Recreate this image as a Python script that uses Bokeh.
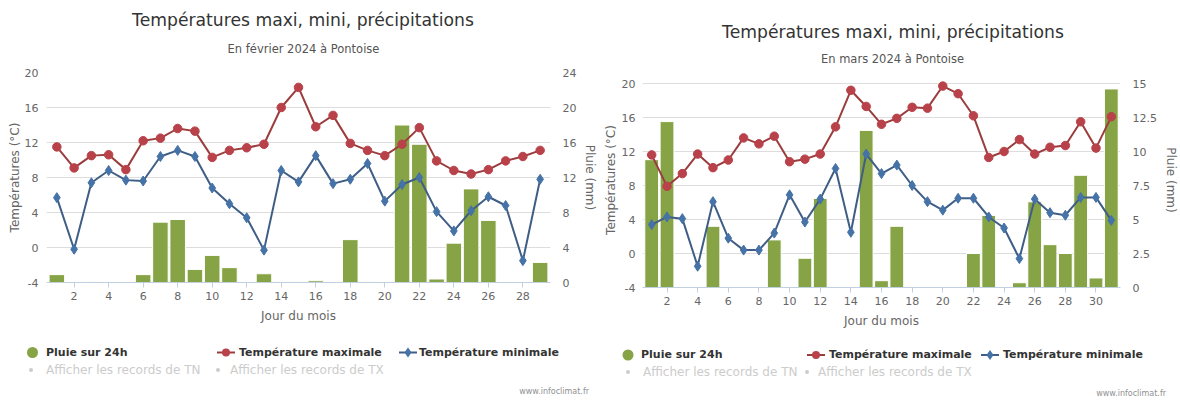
from bokeh.plotting import figure
from bokeh.models import Range1d, LinearAxis, FixedTicker, Div
from bokeh.layouts import row, column
from bokeh.embed import file_html
from bokeh.resources import INLINE

FONT = "DejaVu Sans"

# ---------------- data ----------------
title_text = "Températures maxi, mini, précipitations"
feb_subtitle = "En février 2024 à Pontoise"
mar_subtitle = "En mars 2024 à Pontoise"
x_title = "Jour du mois"
left_title = "Températures (°C)"
right_title = "Pluie (mm)"
legend_rain = "Pluie sur 24h"
legend_tmax = "Température maximale"
legend_tmin = "Température minimale"
records_tn = "Afficher les records de TN"
records_tx = "Afficher les records de TX"
credit = "www.infoclimat.fr"

feb_days = list(range(1, 30))
feb_tmax = [11.5, 9.1, 10.5, 10.6, 8.9, 12.2, 12.5, 13.6, 13.3, 10.3, 11.1, 11.4, 11.8, 16.0, 18.3,
            13.8, 15.1, 11.9, 11.1, 10.5, 11.8, 13.7, 9.9, 8.8, 8.4, 8.9, 9.9, 10.4, 11.1]
feb_tmin = [5.7, -0.2, 7.4, 8.8, 7.7, 7.6, 10.4, 11.1, 10.4, 6.8, 5.0, 3.4, -0.3, 8.8, 7.5,
            10.5, 7.3, 7.8, 9.6, 5.3, 7.2, 8.0, 4.1, 1.9, 4.2, 5.8, 4.8, -1.5, 7.8]
feb_rain = [0.9, 0, 0.1, 0, 0, 0.9, 6.9, 7.2, 1.5, 3.1, 1.7, 0, 1.0, 0.1, 0.1,
            0.2, 0, 4.9, 0.1, 0, 18.0, 15.8, 0.4, 4.5, 10.7, 7.1, 0, 0, 2.3]
feb_xticks = [2, 4, 6, 8, 10, 12, 14, 16, 18, 20, 22, 24, 26, 28]
feb_temp_ticks = [-4, 0, 4, 8, 12, 16, 20]
feb_rain_ticks = [0, 4, 8, 12, 16, 20, 24]

mar_days = list(range(1, 32))
mar_tmax = [11.6, 7.9, 9.4, 11.7, 10.1, 11.0, 13.6, 12.9, 13.8, 10.8, 11.1, 11.7, 14.9, 19.2, 17.3,
            15.2, 15.9, 17.2, 17.1, 19.7, 18.8, 16.2, 11.3, 12.0, 13.4, 11.7, 12.5, 12.7, 15.5, 12.4, 16.1]
mar_tmin = [3.4, 4.3, 4.1, -1.5, 6.1, 1.8, 0.4, 0.4, 2.4, 6.9, 3.7, 6.4, 10.0, 2.5, 11.7,
            9.4, 10.4, 8.0, 6.1, 5.1, 6.5, 6.5, 4.3, 3.0, -0.6, 6.4, 4.8, 4.5, 6.6, 6.6, 3.9]
mar_rain = [9.4, 12.2, 0, 0, 4.5, 0, 0, 0, 3.5, 0, 2.15, 6.55, 0, 0, 11.55,
            0.5, 4.5, 0, 0, 0, 0, 2.5, 5.3, 0, 0.35, 6.3, 3.15, 2.5, 8.25, 0.7, 14.6]
mar_xticks = [2, 4, 6, 8, 10, 12, 14, 16, 18, 20, 22, 24, 26, 28, 30]
mar_temp_ticks = [-4, 0, 4, 8, 12, 16, 20]
mar_rain_ticks = [0, 2.5, 5, 7.5, 10, 12.5, 15]

# ---------------- styles ----------------
GREEN = "#86a345"
RED = "#b9424a"
RED_LINE = "#9c3d3d"
BLUE = "#4572a7"
BLUE_LINE = "#3f5e86"
GRID = "#dddddd"
AXIS = "#c0d0e0"
TICK_TXT = "#666666"
TITLE_TXT = "#333333"
LIGHT = "#cccccc"


def fmt(t):
    return "%g" % t


def span(text, x, yc, size, color, lh, bold=False, align="left", box_w=None):
    weight = "bold" if bold else "normal"
    if align == "left":
        pos = "left:%.1fpx;" % x
    elif align == "center":
        pos = "left:%.1fpx;width:%.1fpx;text-align:center;" % (x - box_w / 2, box_w)
    else:
        pos = "left:%.1fpx;width:%.1fpx;text-align:right;" % (x - box_w, box_w)
    return ('<div style="position:absolute;%stop:%.1fpx;height:%dpx;line-height:%dpx;'
            'font-size:%s;font-weight:%s;color:%s;white-space:nowrap;">%s</div>'
            % (pos, yc - lh / 2, lh, lh, size, weight, color, text))


def box(inner, w, h):
    return ('<div style="position:relative;width:%dpx;height:%dpx;font-family:\'%s\';'
            'overflow:visible;">%s</div>' % (w, h, FONT, inner))


def header(subtitle, L):
    w, h = L["W"], L["hh"]
    inner = span(title_text, L["title_x"], L["title_y"], "17.2px", TITLE_TXT, 22,
                 align="center", box_w=500)
    inner += span(subtitle, L["sub_x"], L["sub_y"], "11.5px", "#555555", 14,
                  align="center", box_w=400)
    return Div(text=box(inner, w, h), width=w, height=h, margin=(0, 0, 0, 0))


def footer(L):
    w, h = L["W"], L["fh_div"]
    r1, r2 = L["r1"], L["r2"]
    cx, tx = L["lg_circle"], L["lg_text"]
    svg = ('<svg style="position:absolute;left:0;top:0;" width="%d" height="%d">' % (w, h))
    svg += '<circle cx="%.1f" cy="%.1f" r="5.5" fill="%s"/>' % (cx[0], r1, GREEN)
    for (x0, col_l, col_m, kind) in ((cx[1], RED_LINE, RED, "c"), (cx[2], BLUE_LINE, BLUE, "d")):
        svg += ('<line x1="%.1f" y1="%.1f" x2="%.1f" y2="%.1f" stroke="%s" stroke-width="2"/>'
                % (x0, r1, x0 + 18, r1, col_l))
        m = x0 + 9
        if kind == "c":
            svg += '<circle cx="%.1f" cy="%.1f" r="4" fill="%s"/>' % (m, r1, col_m)
        else:
            svg += ('<polygon points="%.1f,%.1f %.1f,%.1f %.1f,%.1f %.1f,%.1f" fill="%s"/>'
                    % (m, r1 - 5, m + 3.5, r1, m, r1 + 5, m - 3.5, r1, col_m))
    for bx in L["bullets"]:
        svg += '<circle cx="%.1f" cy="%.1f" r="2" fill="%s"/>' % (bx, r2, LIGHT)
    svg += "</svg>"
    inner = svg
    inner += span(legend_rain, tx[0], r1, "11px", TITLE_TXT, 16, bold=True)
    inner += span(legend_tmax, tx[1], r1, "11px", TITLE_TXT, 16, bold=True)
    inner += span(legend_tmin, tx[2], r1, "11px", TITLE_TXT, 16, bold=True)
    inner += span(records_tn, L["rec_text"][0], r2, "12px", LIGHT, 16)
    inner += span(records_tx, L["rec_text"][1], r2, "12px", LIGHT, 16)
    inner += span(credit, L["cred_x"], L["cred_y"], "8px", "#909090", 10, align="right", box_w=150)
    return Div(text=box(inner, w, h), width=w, height=h, margin=(0, 0, 0, 0))


def chart(days, tmax, tmin, rain, xticks, tticks, rticks, L):
    W = L["W"]
    fw, fh, top, left, bottom = L["fw"], L["fh"], L["top"], L["left"], L["bottom"]
    H = top + fh + bottom
    span_t = tticks[-1] - tticks[0]
    span_r = rticks[-1] - rticks[0]
    plot_h = fh - L["pad_top"]
    t_hi = tticks[-1] + span_t * L["pad_top"] / plot_h
    r_hi = rticks[-1] + span_r * L["pad_top"] / plot_h

    p = figure(width=W, height=H, output_backend="svg", toolbar_location=None, title=None,
               x_range=Range1d(0.4, len(days) + 0.6), y_range=Range1d(tticks[0], t_hi),
               min_border_left=left, min_border_right=W - left - fw,
               min_border_top=top, min_border_bottom=bottom)
    p.outline_line_color = None
    p.background_fill_color = "white"
    p.border_fill_color = "white"
    p.extra_y_ranges = {"rain": Range1d(rticks[0], r_hi)}

    xa = p.xaxis[0]
    xa.ticker = FixedTicker(ticks=xticks)
    xa.axis_line_color = AXIS
    xa.major_tick_line_color = AXIS
    xa.major_tick_out = 5
    xa.major_tick_in = 0
    xa.minor_tick_line_color = None
    xa.major_label_standoff = 4
    xa.major_label_text_font = FONT
    xa.major_label_text_font_size = "11px"
    xa.major_label_text_color = TICK_TXT
    xa.axis_label = x_title
    xa.axis_label_standoff = 6
    xa.axis_label_text_font = FONT
    xa.axis_label_text_font_size = "12px"
    xa.axis_label_text_font_style = "normal"
    xa.axis_label_text_color = TICK_TXT

    ya = p.yaxis[0]
    ya.ticker = FixedTicker(ticks=tticks)
    ya.major_label_overrides = {t: fmt(t) for t in tticks}
    ya.axis_line_color = None
    ya.major_tick_line_color = None
    ya.minor_tick_line_color = None
    ya.major_label_standoff = L["lstand"]
    ya.major_label_text_font = FONT
    ya.major_label_text_font_size = "11px"
    ya.major_label_text_color = TICK_TXT
    ya.axis_label = left_title
    ya.axis_label_standoff = L["lals"]
    ya.axis_label_text_font = FONT
    ya.axis_label_text_font_size = "12px"
    ya.axis_label_text_font_style = "normal"
    ya.axis_label_text_color = TICK_TXT

    ra = LinearAxis(y_range_name="rain", ticker=FixedTicker(ticks=rticks))
    ra.major_label_overrides = {t: fmt(t) for t in rticks}
    ra.axis_line_color = None
    ra.major_tick_line_color = None
    ra.minor_tick_line_color = None
    ra.major_label_standoff = L["rstand"]
    ra.major_label_text_font = FONT
    ra.major_label_text_font_size = "11px"
    ra.major_label_text_color = TICK_TXT
    ra.axis_label = right_title
    ra.axis_label_standoff = 4
    ra.axis_label_text_font = FONT
    ra.axis_label_text_font_size = "12px"
    ra.axis_label_text_font_style = "normal"
    ra.axis_label_text_color = TICK_TXT
    p.add_layout(ra, "right")

    p.ygrid.ticker = FixedTicker(ticks=tticks)
    p.ygrid.grid_line_color = GRID
    p.xgrid.grid_line_color = None

    p.vbar(x=days, top=rain, bottom=0, width=0.9, y_range_name="rain",
           fill_color=GREEN, line_color="white", line_width=1)
    p.line(days, tmax, line_color=RED_LINE, line_width=2)
    p.scatter(days, tmax, marker="circle", size=8.5, fill_color=RED, line_color=RED)
    p.line(days, tmin, line_color=BLUE_LINE, line_width=2)
    p.scatter(days, tmin, marker="diamond", size=10, fill_color=BLUE, line_color=BLUE)
    return p


# page layout: chart 1 at x 0..600, chart 2 at x 600..1180 (local coordinates below)
L1 = dict(W=600, hh=64, top=8, fh=210, bottom=45, left=46, fw=515, pad_top=0,
          lstand=2, lals=0, rstand=6,
          title_x=303, title_y=19.5, sub_x=303.5, sub_y=49,
          fh_div=74, r1=25.5, r2=43, lg_circle=(32.5, 217, 399), lg_text=(46, 239, 419),
          bullets=(31, 218), rec_text=(46, 230), cred_x=589, cred_y=65)
L2 = dict(W=580, hh=64, top=8, fh=215, bottom=45, left=42, fw=489, pad_top=11,
          lstand=1, lals=1, rstand=6,
          title_x=293, title_y=31.5, sub_x=292.5, sub_y=59.3,
          fh_div=69, r1=23, r2=40, lg_circle=(28, 207, 381), lg_text=(41, 229, 403),
          bullets=(28, 207), rec_text=(43, 218), cred_x=566, cred_y=62)

p1 = chart(feb_days, feb_tmax, feb_tmin, feb_rain, feb_xticks, feb_temp_ticks, feb_rain_ticks, L1)
p2 = chart(mar_days, mar_tmax, mar_tmin, mar_rain, mar_xticks, mar_temp_ticks, mar_rain_ticks, L2)

c1 = column(header(feb_subtitle, L1), p1, footer(L1), spacing=0)
c2 = column(header(mar_subtitle, L2), p2, footer(L2), spacing=0)
layout = row(c1, c2, spacing=0)
open("out.html", "w").write(file_html(layout, INLINE))
